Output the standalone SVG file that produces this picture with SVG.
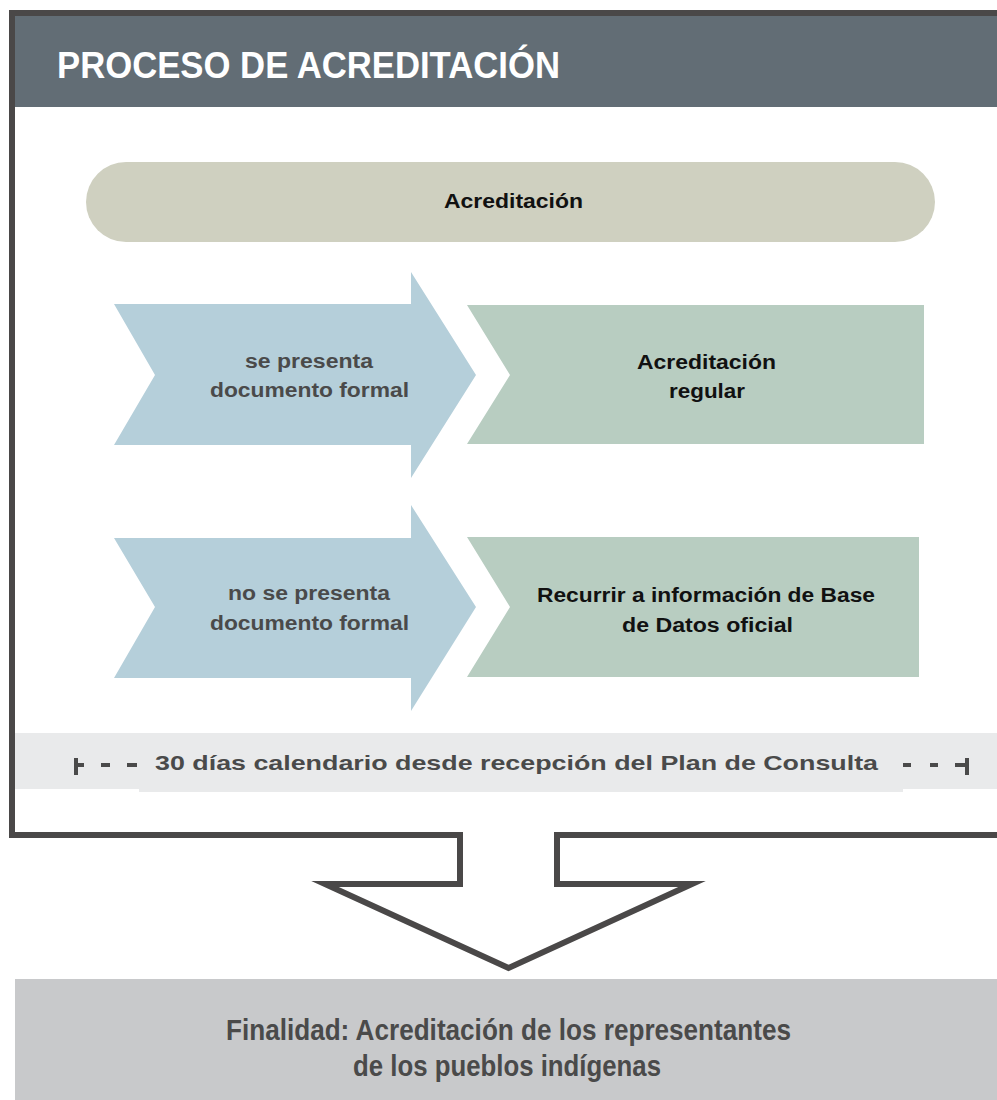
<svg xmlns="http://www.w3.org/2000/svg" width="997" height="1100" viewBox="0 0 997 1100">
<style>
.t{font-family:"Liberation Sans",Arial,sans-serif;font-weight:bold}
.gray{fill:#4a4a4a}
.blk{fill:#111111}
.chev{fill:#b5cfda}
.grn{fill:#b8cdc1}
.band{fill:#e9eaeb}
.mk{fill:#4a4a4a}
</style>
<rect width="997" height="1100" fill="#ffffff"/>
<g id="header">
<rect x="12" y="13" width="990" height="94" fill="#626d75"/>
<text class="t" x="57" y="78" font-size="37" fill="#ffffff" textLength="503" lengthAdjust="spacingAndGlyphs">PROCESO DE ACREDITACIÓN</text>
</g>
<g id="acreditacion">
<rect x="86" y="162" width="849" height="80" rx="40" ry="40" fill="#cfd0c0"/>
<text class="t blk" x="444" y="208" font-size="20" textLength="139" lengthAdjust="spacingAndGlyphs">Acreditación</text>
</g>
<g id="se-presenta">
<polygon class="chev" points="114,304 411,304 411,272 476,375 411,478 411,445 114,445 155,375"/>
<text class="t gray" x="245" y="368" font-size="20" textLength="128" lengthAdjust="spacingAndGlyphs">se presenta</text>
<text class="t gray" x="210" y="397" font-size="20" textLength="199" lengthAdjust="spacingAndGlyphs">documento formal</text>
</g>
<g id="acreditacion-regular">
<polygon class="grn" points="467,305 924,305 924,444 467,444 510,375"/>
<text class="t blk" x="637" y="369" font-size="21" textLength="139" lengthAdjust="spacingAndGlyphs">Acreditación</text>
<text class="t blk" x="669" y="398" font-size="21" textLength="76" lengthAdjust="spacingAndGlyphs">regular</text>
</g>
<g id="no-se-presenta">
<polygon class="chev" points="114,538 411,538 411,505 476,607 411,711 411,678 114,678 155,607"/>
<text class="t gray" x="228" y="600" font-size="20" textLength="162" lengthAdjust="spacingAndGlyphs">no se presenta</text>
<text class="t gray" x="210" y="630" font-size="20" textLength="199" lengthAdjust="spacingAndGlyphs">documento formal</text>
</g>
<g id="recurrir">
<polygon class="grn" points="467,537 919,537 919,677 467,677 510,607"/>
<text class="t blk" x="537" y="602" font-size="20" textLength="338" lengthAdjust="spacingAndGlyphs">Recurrir a información de Base</text>
<text class="t blk" x="622" y="632" font-size="20" textLength="171" lengthAdjust="spacingAndGlyphs">de Datos oficial</text>
</g>
<g id="plazo">
<rect class="band" x="15" y="733" width="982" height="56"/>
<rect class="band" x="139" y="740" width="764" height="52"/>
<rect class="mk" x="74" y="758" width="4" height="17"/>
<rect class="mk" x="78" y="763" width="6" height="4"/>
<rect class="mk" x="101" y="763" width="9" height="4"/>
<rect class="mk" x="127" y="763" width="10" height="4"/>
<text class="t gray" x="155" y="770" font-size="21" textLength="723" lengthAdjust="spacingAndGlyphs">30 días calendario desde recepción del Plan de Consulta</text>
<rect class="mk" x="903" y="763" width="8" height="4"/>
<rect class="mk" x="930" y="763" width="8" height="4"/>
<rect class="mk" x="955" y="763" width="10" height="4"/>
<rect class="mk" x="965" y="758" width="4" height="17"/>
</g>
<g id="connectors">
<path d="M1002 13 H12 V835 H460 V884 H325 L508.5 968 L692 884 H557 V835 H1002" fill="none" stroke="#4a4848" stroke-width="6" stroke-linejoin="miter" stroke-miterlimit="10"/>
</g>
<g id="finalidad">
<rect x="15" y="979" width="982" height="121" fill="#c8c9cb"/>
<text class="t gray" x="226" y="1040" font-size="29" textLength="565" lengthAdjust="spacingAndGlyphs">Finalidad: Acreditación de los representantes</text>
<text class="t gray" x="353" y="1076" font-size="29" textLength="308" lengthAdjust="spacingAndGlyphs">de los pueblos indígenas</text>
</g>
</svg>
